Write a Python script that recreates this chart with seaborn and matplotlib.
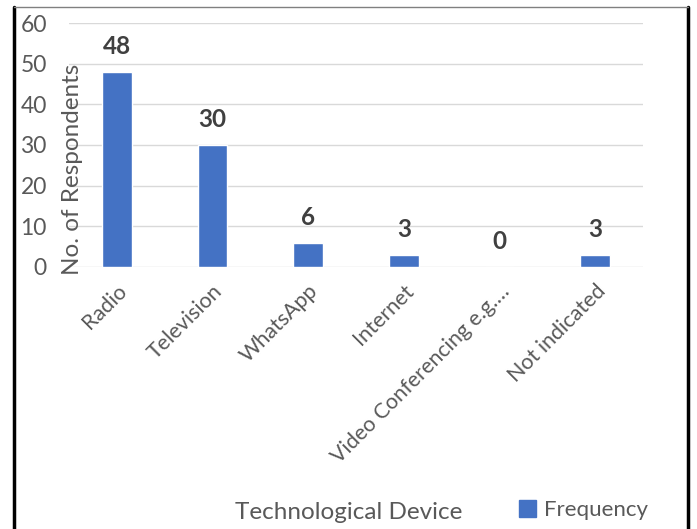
import matplotlib
matplotlib.use("Agg")
import matplotlib.pyplot as plt
import seaborn as sns
import pandas as pd
from matplotlib.lines import Line2D
from matplotlib.patches import Patch

# === DATA ===
devices = ["Radio", "Television", "WhatsApp", "Internet",
           "Video Conferencing e.g.\u2026", "Not indicated"]
frequency = [48, 30, 6, 3, 0, 3]
y_ticks = [0, 10, 20, 30, 40, 50, 60]

df = pd.DataFrame({"Device": devices, "Frequency": frequency})

sns.set_style("white")
plt.rcParams["font.family"] = ["Lato", "DejaVu Sans"]
text_gray = "#595959"
bar_blue = "#4472C4"

fig = plt.figure(figsize=(6.97, 5.29), dpi=100)
ax = fig.add_axes([0.099, 0.4953, 0.8235, 0.4612])

sns.barplot(data=df, x="Device", y="Frequency", color=bar_blue,
            width=0.31, saturation=1, ax=ax)

ax.set_ylim(0, 60)
ax.set_yticks(y_ticks)
ax.set_xlim(-0.5, len(devices) - 0.5)
ax.grid(axis="y", color="#D9D9D9", lw=1)
ax.set_axisbelow(True)
for s in ax.spines.values():
    s.set_visible(False)
ax.tick_params(axis="both", length=0, colors=text_gray)
ax.tick_params(axis="y", labelsize=16.5, pad=16)
ax.set_xticks(range(len(devices)))
ax.set_xticklabels(devices, rotation=45, ha="right", rotation_mode="anchor",
                   fontsize=15.5, color=text_gray)
ax.tick_params(axis="x", pad=10)

ax.set_ylabel("No. of Respondents", fontsize=17.5, color=text_gray)
ax.yaxis.set_label_coords(0.024, 0.40)
ax.set_xlabel("")

ax.bar_label(ax.containers[0], labels=[str(v) for v in frequency],
             padding=10, fontsize=17.5, fontweight="bold", color="#404040")

fig.text(0.50, 0.032, "Technological Device", ha="center", va="center",
         fontsize=17.5, color=text_gray)
fig.legend(handles=[Patch(color=bar_blue, label="Frequency")],
           loc="center", bbox_to_anchor=(0.837, 0.036), frameon=False,
           fontsize=16, handlelength=0.8, handleheight=0.8, handletextpad=0.35,
           labelcolor=text_gray)

# outer frame
fig.add_artist(Line2D([14 / 697, 14 / 697], [0, 1 - 7 / 529], color="black", lw=2.5,
                      transform=fig.transFigure))
fig.add_artist(Line2D([688 / 697, 688 / 697], [0, 1 - 7 / 529], color="black", lw=2.5,
                      transform=fig.transFigure))
fig.add_artist(Line2D([14 / 697, 688 / 697], [1 - 7 / 529, 1 - 7 / 529], color="#808080",
                      lw=1, transform=fig.transFigure))

fig.savefig("out.png", dpi=100)
